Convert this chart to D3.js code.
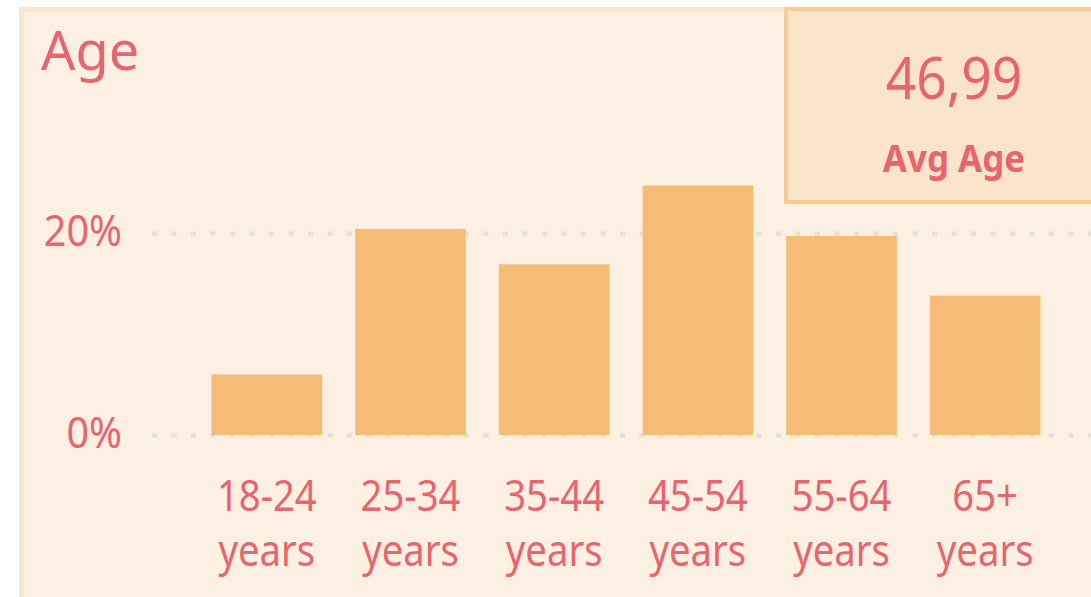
<!DOCTYPE html>
<html>
<head>
<meta charset="utf-8">
<script src="https://cdn.jsdelivr.net/npm/d3@7"></script>
<style>
  html, body { margin: 0; padding: 0; background: #ffffff; }
  svg { display: block; }
  text { font-family: "Segoe UI", "Noto Sans", "Open Sans", sans-serif; }
</style>
</head>
<body>
<script>
// data
var titel = "Age";
var klasser = ["18-24 years", "25-34 years", "35-44 years", "45-54 years", "55-64 years", "65+ years"];
var andelar = [0.060, 0.204, 0.169, 0.247, 0.197, 0.138];
var yTicks = [0, 0.2];
var kpiVarde = "46,99";
var kpiText = "Avg Age";

var width = 1091, height = 597;
var textFarg = "#E8646E";

var canvas = d3.select("body").append("svg")
    .attr("width", width)
    .attr("height", height);

// bakgrund / panel
canvas.append("rect")
    .attr("x", 21.5).attr("y", 9.5)
    .attr("width", 1200).attr("height", 700)
    .attr("fill", "#FCF0E2")
    .attr("stroke", "#FBE5CF")
    .attr("stroke-width", 5);

// skalor
var xScale = d3.scaleBand()
    .domain(klasser)
    .range([195, 1057])
    .paddingInner(0.23)
    .paddingOuter(0.115);
var yScale = d3.scaleLinear()
    .domain([0, 0.2])
    .range([435, 233]);

// y-axel med rutnät
var yAxis = d3.axisLeft(yScale)
    .tickValues(yTicks)
    .tickFormat(d3.format(".0%"))
    .tickSize(-(width - 152))
    .tickPadding(0);

var yG = canvas.append("g")
    .attr("transform", "translate(152,0)")
    .call(yAxis);
yG.select(".domain").remove();
yG.selectAll(".tick line")
    .attr("stroke", "#E2DEDA")
    .attr("stroke-width", 4)
    .attr("stroke-dasharray", "5,14.5");
yG.selectAll(".tick text")
    .attr("x", -30 / 0.9)
    .attr("dy", 12)
    .attr("transform", "scale(0.9,1)")
    .attr("fill", textFarg)
    .attr("font-size", 44)
    .attr("text-anchor", "end");

// staplar
canvas.append("g").selectAll("rect")
    .data(andelar).enter()
    .append("rect")
    .attr("x", function(d, i) { return xScale(klasser[i]); })
    .attr("y", function(d) { return yScale(d); })
    .attr("width", xScale.bandwidth())
    .attr("height", function(d) { return yScale(0) - yScale(d); })
    .attr("fill", "#F7BB78");

// x-axel
var xAxis = d3.axisBottom(xScale).tickSize(0).tickFormat("");
var xG = canvas.append("g")
    .attr("transform", "translate(0,435)")
    .call(xAxis);
xG.select(".domain").remove();
xG.selectAll(".tick").each(function(d) {
    var delar = d.split(" ");
    var t = d3.select(this).select("text")
        .text(null)
        .attr("y", 0)
        .attr("dy", null)
        .attr("fill", textFarg)
        .attr("font-size", 44)
        .attr("text-anchor", "middle")
        .attr("transform", "scale(0.87,1)");
    t.append("tspan").attr("x", 0).attr("y", 76).text(delar[0]);
    t.append("tspan").attr("x", 0).attr("y", 131).text(delar[1]);
});

// titel
canvas.append("text")
    .attr("x", 41).attr("y", 70)
    .attr("fill", textFarg)
    .attr("font-size", 54)
    .text(titel);

// KPI-kort
canvas.append("rect")
    .attr("x", 786).attr("y", 9)
    .attr("width", 400).attr("height", 193)
    .attr("fill", "#FBE5CA")
    .attr("stroke", "#F9C996")
    .attr("stroke-width", 4);
canvas.append("text")
    .attr("x", 954).attr("y", 99)
    .attr("text-anchor", "middle")
    .attr("fill", textFarg)
    .attr("font-size", 58)
    .attr("transform", "translate(954,0) scale(0.92,1) translate(-954,0)")
    .text(kpiVarde);
canvas.append("text")
    .attr("x", 954).attr("y", 172)
    .attr("text-anchor", "middle")
    .attr("fill", textFarg)
    .attr("font-size", 38)
    .attr("font-weight", "bold")
    .attr("transform", "translate(954,0) scale(0.92,1) translate(-954,0)")
    .text(kpiText);
</script>
</body>
</html>
